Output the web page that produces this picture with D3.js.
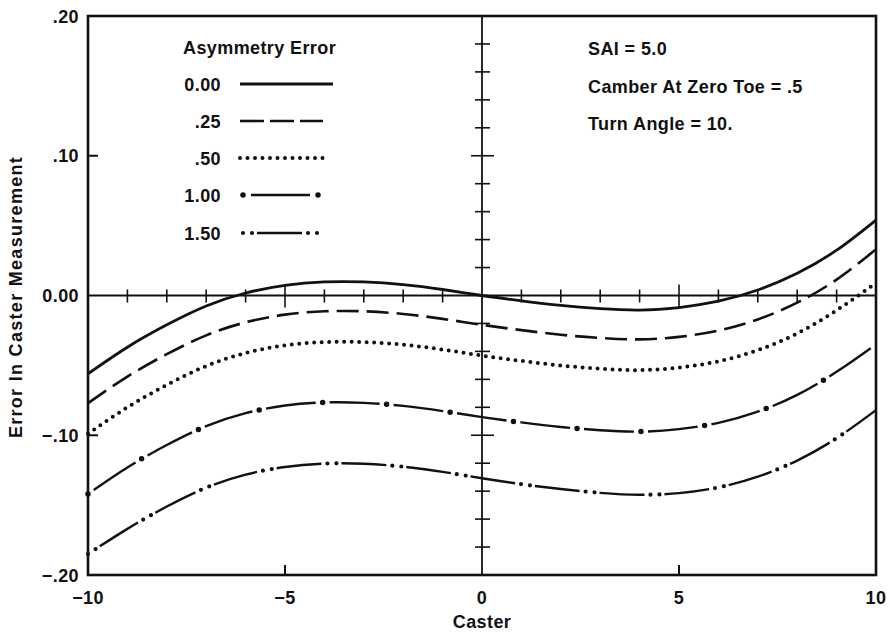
<!DOCTYPE html>
<html>
<head>
<meta charset="utf-8">
<script src="https://cdn.jsdelivr.net/npm/d3@7"></script>
<style>
  body { margin: 0; background: #fff; }
  text { font-family: "Liberation Sans", Arial, sans-serif; font-weight: bold; fill: #111; letter-spacing: 0.4px; font-size: 18px; }
</style>
</head>
<body>
<script>
var caster = [-10, -9, -8, -7, -6, -5, -4, -3, -2, -1, 0, 1, 2, 3, 4, 5, 6, 7, 8, 9, 10];

// error in caster measurement, one array per asymmetry error
var err000 = [-0.056, -0.037, -0.021, -0.0075, 0.0018, 0.0073, 0.0097, 0.0097, 0.0078, 0.0043, 0.000, -0.0038, -0.0071, -0.0094, -0.0104, -0.0086, -0.0041, 0.0039, 0.0159, 0.0324, 0.054];
var err025 = [-0.077, -0.058, -0.042, -0.0285, -0.0192, -0.0137, -0.0113, -0.0113, -0.0132, -0.0167, -0.021, -0.0248, -0.0281, -0.0304, -0.0314, -0.0296, -0.0251, -0.0171, -0.0051, 0.0114, 0.033];
var err050 = [-0.099, -0.080, -0.064, -0.0505, -0.0412, -0.0357, -0.0333, -0.0333, -0.0352, -0.0387, -0.043, -0.0468, -0.0501, -0.0524, -0.0534, -0.0516, -0.0471, -0.0391, -0.0271, -0.0106, 0.009];
var err100 = [-0.142, -0.123, -0.107, -0.0935, -0.0842, -0.0787, -0.0765, -0.0768, -0.079, -0.0827, -0.087, -0.0908, -0.0941, -0.0964, -0.0974, -0.0956, -0.0911, -0.0831, -0.0711, -0.0546, -0.035];
var err150 = [-0.185, -0.167, -0.151, -0.1375, -0.1282, -0.1227, -0.1203, -0.1204, -0.1225, -0.1262, -0.1308, -0.135, -0.1385, -0.1412, -0.1426, -0.1414, -0.1373, -0.1296, -0.1181, -0.1021, -0.082];

var seriesNames = ["0.00", ".25", ".50", "1.00", "1.50"];
var seriesValues = [err000, err025, err050, err100, err150];

var xTickValues = [-10, -5, 0, 5, 10];
var xTickLabels = ["\u221210", "\u22125", "0", "5", "10"];
var yTickValues = [0.2, 0.1, 0, -0.1, -0.2];
var yTickLabels = [".20", ".10", "0.00", "\u2212.10", "\u2212.20"];

var notes = ["SAI = 5.0", "Camber At Zero Toe = .5", "Turn Angle = 10."];

// line looks: solid, dashed, dotted, dot + long dash, two dots + long dash
var looks = [
  { w: 2.8 },
  { w: 2.6, dash: "22 8", legDash: "24 6" },
  { w: 4, dash: "0 7.5", cap: "round" },
  { w: 2.4, dash: "0 7 50 7", dotW: 5.5, dots: "0 64", legDash: "0 8 59 8", legDots: "0 75" },
  { w: 2.4, dash: "0 14 45 6", dotW: 4.2, dots: "0 9 0 56" }
];

var width = 890, height = 634;
var x = d3.scaleLinear().domain([-10, 10]).range([88, 876]);
var y = d3.scaleLinear().domain([-0.2, 0.2]).range([575, 16]);

var svg = d3.select("body").append("svg")
    .attr("width", width)
    .attr("height", height);

// cross axes through the origin
svg.append("line")
    .attr("x1", x(-10)).attr("x2", x(10))
    .attr("y1", y(0)).attr("y2", y(0))
    .attr("stroke", "#111").attr("stroke-width", 1.8);
svg.append("line")
    .attr("x1", x(0)).attr("x2", x(0))
    .attr("y1", y(0.2)).attr("y2", y(-0.2))
    .attr("stroke", "#111").attr("stroke-width", 1.8);

// ticks on the horizontal zero line
var hTicks = d3.range(-9, 10).filter(function(d) { return d !== 0; });
svg.selectAll(".htick")
    .data(hTicks)
  .enter().append("line")
    .attr("class", "htick")
    .attr("x1", function(d) { return x(d); })
    .attr("x2", function(d) { return x(d); })
    .attr("y1", function(d) { return y(0) - (Math.abs(d) === 5 ? 11 : 6); })
    .attr("y2", function(d) { return y(0) + (Math.abs(d) === 5 ? 12 : 7); })
    .attr("stroke", "#111").attr("stroke-width", 1.6);

// ticks on the vertical zero line, every .02
var vTicks = d3.range(-9, 10).filter(function(d) { return d !== 0; });
svg.selectAll(".vtick")
    .data(vTicks)
  .enter().append("line")
    .attr("class", "vtick")
    .attr("y1", function(d) { return y(d * 0.02); })
    .attr("y2", function(d) { return y(d * 0.02); })
    .attr("x1", function(d) { return x(0) - (Math.abs(d) === 5 ? 11 : 7); })
    .attr("x2", function(d) { return x(0) + (Math.abs(d) === 5 ? 12 : 8); })
    .attr("stroke", "#111").attr("stroke-width", 1.6);

// curves
var line = d3.line()
    .x(function(d, i) { return x(caster[i]); })
    .y(function(d) { return y(d); })
    .curve(d3.curveNatural);

seriesValues.forEach(function(vals, k) {
  var lk = looks[k];
  svg.append("path")
      .attr("d", line(vals))
      .attr("fill", "none")
      .attr("stroke", "#111")
      .attr("stroke-width", lk.w)
      .attr("stroke-linecap", lk.cap || "butt")
      .attr("stroke-dasharray", lk.dash || null);
  if (lk.dots) {
    svg.append("path")
        .attr("d", line(vals))
        .attr("fill", "none")
        .attr("stroke", "#111")
        .attr("stroke-width", lk.dotW)
        .attr("stroke-linecap", "round")
        .attr("stroke-dasharray", lk.dots);
  }
});

// frame
svg.append("rect")
    .attr("x", x(-10)).attr("y", y(0.2))
    .attr("width", x(10) - x(-10))
    .attr("height", y(-0.2) - y(0.2))
    .attr("fill", "none")
    .attr("stroke", "#111").attr("stroke-width", 2.6);

// inward frame ticks
[0.1, -0.1].forEach(function(v) {
  svg.append("line")
      .attr("x1", x(-10)).attr("x2", x(-10) + 10)
      .attr("y1", y(v)).attr("y2", y(v))
      .attr("stroke", "#111").attr("stroke-width", 2);
});
[-5, 5].forEach(function(v) {
  svg.append("line")
      .attr("x1", x(v)).attr("x2", x(v))
      .attr("y1", y(-0.2)).attr("y2", y(-0.2) - 10)
      .attr("stroke", "#111").attr("stroke-width", 2);
});

// tick labels
svg.selectAll(".ylab")
    .data(yTickValues)
  .enter().append("text")
    .attr("class", "ylab")
    .attr("x", 79)
    .attr("y", function(d) { return y(d) + 6.5; })
    .attr("text-anchor", "end")
    .text(function(d, i) { return yTickLabels[i]; });

svg.selectAll(".xlab")
    .data(xTickValues)
  .enter().append("text")
    .attr("class", "xlab")
    .attr("x", function(d) { return x(d); })
    .attr("y", 604)
    .attr("text-anchor", "middle")
    .text(function(d, i) { return xTickLabels[i]; });

svg.append("text")
    .attr("x", x(0))
    .attr("y", 628)
    .attr("text-anchor", "middle")
    .text("Caster");

svg.append("text")
    .attr("transform", "translate(22,297) rotate(-90)")
    .attr("text-anchor", "middle")
    .style("letter-spacing", "1.3px")
    .text("Error In Caster Measurement");

// legend
var legY = [84, 121, 158, 195, 233];
svg.append("text")
    .attr("x", 183).attr("y", 54)
    .text("Asymmetry Error");

var legEnd = [333, 323, 326, 318, 314];
seriesNames.forEach(function(name, k) {
  var lk = looks[k];
  svg.append("text")
      .attr("x", 221).attr("y", legY[k] + 6.5)
      .attr("text-anchor", "end")
      .text(name);
  var x0 = k >= 3 ? 243 : 240;
  svg.append("line")
      .attr("x1", x0).attr("x2", legEnd[k])
      .attr("y1", legY[k]).attr("y2", legY[k])
      .attr("stroke", "#111")
      .attr("stroke-width", lk.w)
      .attr("stroke-linecap", lk.cap || "butt")
      .attr("stroke-dasharray", lk.legDash || lk.dash || null);
  if (lk.dots) {
    svg.append("line")
        .attr("x1", x0).attr("x2", legEnd[k] + 4)
        .attr("y1", legY[k]).attr("y2", legY[k])
        .attr("stroke", "#111")
        .attr("stroke-width", lk.dotW)
        .attr("stroke-linecap", "round")
        .attr("stroke-dasharray", lk.legDots || lk.dots);
  }
});

// run conditions
svg.selectAll(".note")
    .data(notes)
  .enter().append("text")
    .attr("class", "note")
    .attr("x", 588)
    .attr("y", function(d, i) { return 55 + i * 37.5; })
    .text(function(d) { return d; });
</script>
</body>
</html>
